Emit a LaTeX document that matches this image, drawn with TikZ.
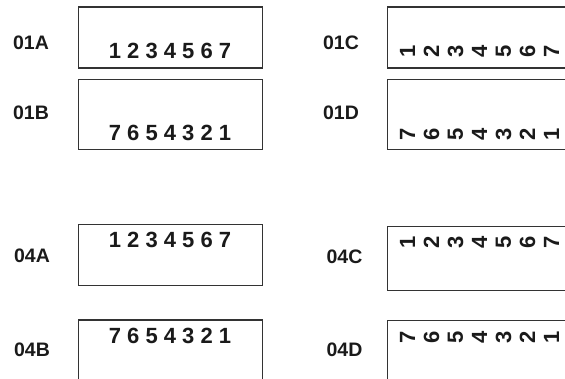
\documentclass[tikz,border=0pt]{standalone}
\usepackage{fontspec}
\setmainfont{Liberation Sans}
\usetikzlibrary{positioning}
\definecolor{frame}{HTML}{333333}
\definecolor{ink}{HTML}{1A1A1A}

\begin{document}
\begin{tikzpicture}[x=1pt, y=-1pt,
  panel/.style={draw=frame, line width=1.3pt, anchor=north west, inner sep=0pt, minimum width=184.5pt},
  tag/.style={font=\fontsize{19.5}{22}\selectfont\bfseries, text=ink, inner sep=0pt},
  digits/.style={font=\fontsize{22}{26}\selectfont\bfseries, text=ink, inner sep=0pt, anchor=base},
  turned/.style={font=\fontsize{22}{26}\selectfont\bfseries, text=ink, inner sep=0pt, rotate=90, anchor=west}]
\useasboundingbox (0,0) rectangle (565,379);
\clip (0,0) rectangle (565,379);
% top group
\node[panel, minimum height=61pt] (boxA) at (77.5,6.5) {};
\node[panel, minimum height=70pt] (boxB) at (77.5,79) {};
\node[panel, minimum height=61pt, minimum width=200pt] (boxC) at (387,6.5) {};
\node[panel, minimum height=70pt, minimum width=200pt] (boxD) at (387,79) {};
\node[tag] (tagA) at (31,42.5) {01A};
\node[tag] (tagB) at (31,113) {01B};
\node[tag] (tagC) at (341,42.5) {01C};
\node[tag] (tagD) at (341,113) {01D};
\node[digits] (numA) at (170,59) {1 2 3 4 5 6 7};
\node[digits] (numB) at (170,141) {7 6 5 4 3 2 1};
\foreach \d [count=\k] in {1,2,3,4,5,6,7}
  \node[turned] (numC\k) at ({407.5+24*(\k-1)},58) {\d};
\foreach \d [count=\k] in {7,6,5,4,3,2,1}
  \node[turned] (numD\k) at ({407.5+24*(\k-1)},141) {\d};
% bottom group
\node[panel, minimum height=61pt] (boxE) at (77.5,224) {};
\node[panel, minimum height=80pt] (boxF) at (77.5,319.3) {};
\node[panel, minimum height=64.3pt, minimum width=200pt] (boxG) at (387,225.7) {};
\node[panel, minimum height=80pt, minimum width=200pt] (boxH) at (387,320) {};
\node[tag] (tagE) at (32,255.3) {04A};
\node[tag] (tagF) at (32,350) {04B};
\node[tag] (tagG) at (344.5,256.5) {04C};
\node[tag] (tagH) at (344.5,350) {04D};
\node[digits] (numE) at (170,247.7) {1 2 3 4 5 6 7};
\node[digits] (numF) at (170,343.3) {7 6 5 4 3 2 1};
\foreach \d [count=\k] in {1,2,3,4,5,6,7}
  \node[turned] (numG\k) at ({407.5+24*(\k-1)},248.5) {\d};
\foreach \d [count=\k] in {7,6,5,4,3,2,1}
  \node[turned] (numH\k) at ({407.5+24*(\k-1)},343.5) {\d};
\end{tikzpicture}
\end{document}
